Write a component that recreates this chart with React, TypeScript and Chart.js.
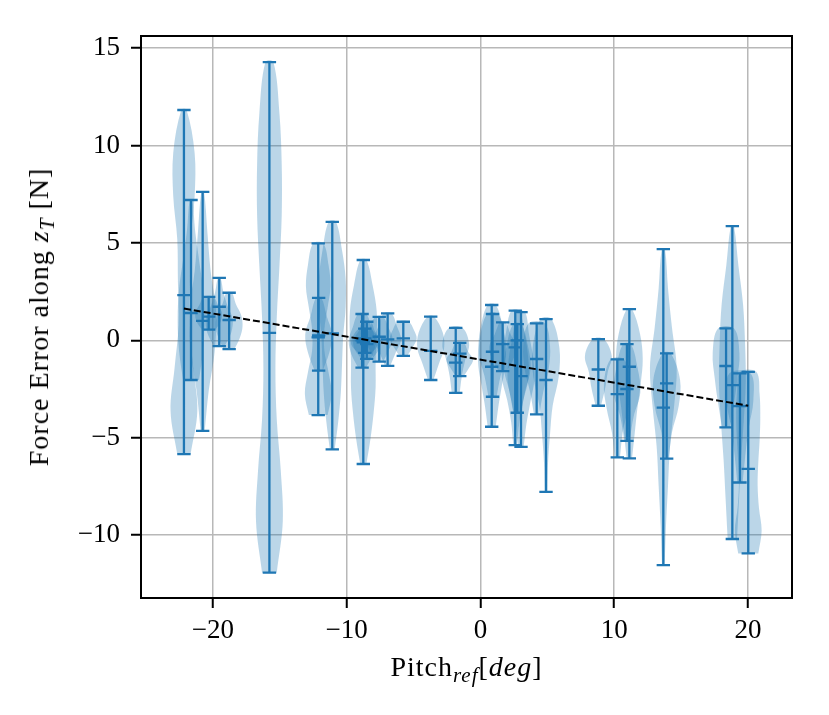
import { useEffect, useRef } from "react";
import { Chart, registerables } from "chart.js";

Chart.register(...registerables);

// one entry per violin: position on the pitch axis, extrema and centre line
const violinPos = [
  -22.17, -21.64, -20.77, -20.32, -19.53, -18.79, -15.78, -12.13, -12.1, -11.08,
  -8.76, -8.85, -8.5, -8.65, -7.57, -6.94, -5.77, -3.72, -1.85, -1.55,
  0.84, 0.9, 1.66, 2.6, 2.75, 3.03, 4.2, 4.9, 8.81, 10.23,
  11.13, 10.95, 13.67, 13.92, 18.36, 18.83, 19.4, 20.02,
];
const violinMin = [
  -5.84, -2.04, -4.65, 0.55, -0.3, -0.45, -11.93, -3.84, -1.56, -5.6,
  -6.35, -1.4, -0.95, -0.65, -1.1, -1.31, -0.8, -2.04, -2.7, -1.84,
  -4.44, -2.9, -1.58, -5.38, -3.72, -5.47, -3.8, -7.78, -3.36, -6.01,
  -6.06, -5.16, -11.54, -6.08, -4.47, -10.2, -7.3, -10.94,
];
const violinMax = [
  11.82, 7.2, 7.62, 2.23, 3.2, 2.44, 14.28, 4.97, 2.18, 6.08,
  4.12, 1.35, 0.95, 0.6, 1.2, 1.38, 0.95, 1.21, 0.64, -0.13,
  1.81, 1.35, 0.92, 1.52, 0.83, 1.45, 0.87, 1.09, 0.06, -0.98,
  1.6, -0.2, 4.68, -0.67, 0.61, 5.86, -1.7, -1.62,
];
const violinMid = [
  2.32, 1.4, 1.0, 1.21, 1.72, 1.04, 0.38, 0.15, 0.25, 0.35,
  -0.1, 0.0, -0.2, 0.1, 0.18, 0.05, 0.1, -0.54, -1.15, -0.68,
  -1.36, -0.59, -0.2, -0.36, 0.0, -1.84, -0.96, -2.04, -1.5, -2.76,
  -1.36, -2.5, -3.46, -2.21, -1.32, -2.3, -3.38, -6.6,
];
// relative half-widths, read bottom (min) to top (max) at even steps
const violinShape = [
  [0.5, 1.0, 0.7, 0.4, 0.45, 0.5, 0.8, 0.8, 0.2],
  [0.6, 0.9, 1.0, 0.9, 0.6, 0.3, 0.1],
  [0.15, 0.45, 0.9, 1.0, 0.6, 0.35, 0.1],
  [0.5, 0.9, 1.0, 0.7, 0.35],
  [0.4, 0.9, 1.0, 0.6, 0.3, 0.1],
  [0.4, 0.8, 1.0, 0.9, 0.5, 0.2],
  [0.55, 1.0, 0.85, 0.55, 0.45, 0.55, 0.75, 0.92, 0.92, 0.75, 0.3],
  [0.7, 1.0, 0.77, 0.46, 0.46, 0.7, 0.92, 0.77, 0.38],
  [0.3, 0.8, 1.0, 0.6, 0.2],
  [0.18, 0.45, 0.64, 0.73, 0.82, 1.0, 1.0, 0.73, 0.27],
  [0.23, 0.54, 0.77, 0.92, 0.92, 1.0, 1.0, 0.7, 0.23],
  [0.3, 0.8, 1.0, 0.7, 0.3],
  [0.4, 0.9, 1.0, 0.6, 0.3],
  [0.5, 1.0, 0.9, 0.4],
  [0.3, 0.7, 1.0, 0.7, 0.3],
  [0.2, 0.6, 1.0, 0.7, 0.3],
  [0.3, 0.7, 1.0, 0.8, 0.4],
  [0.2, 0.6, 1.0, 0.9, 0.25],
  [0.3, 0.45, 0.7, 1.0, 0.5],
  [0.3, 0.7, 1.0, 0.6, 0.3],
  [0.3, 0.5, 0.75, 1.0, 1.0, 0.8, 0.3],
  [0.3, 0.6, 1.0, 0.9, 0.4],
  [0.3, 0.8, 1.0, 0.6, 0.2],
  [0.15, 0.3, 0.6, 1.0, 0.95, 0.7, 0.3],
  [0.3, 0.6, 1.0, 0.8, 0.3],
  [0.2, 0.4, 0.7, 1.0, 0.9, 0.6, 0.3],
  [0.2, 0.5, 0.9, 1.0, 0.6],
  [0.1, 0.15, 0.3, 0.5, 0.95, 1.0, 0.4],
  [0.2, 0.5, 0.7, 1.0, 0.4],
  [0.2, 0.4, 0.8, 1.0, 0.5],
  [0.2, 0.4, 0.6, 0.85, 1.0, 0.8, 0.2],
  [0.2, 0.5, 1.0, 0.8, 0.3],
  [0.1, 0.2, 0.35, 0.5, 0.8, 1.0, 0.65, 0.35, 0.12],
  [0.15, 0.4, 0.9, 1.0, 0.3],
  [0.3, 0.6, 0.85, 1.0, 0.6],
  [0.35, 0.5, 0.65, 0.85, 1.0, 0.95, 0.8, 0.45, 0.12],
  [0.2, 0.4, 0.65, 1.0, 0.8],
  [0.75, 1.0, 0.8, 0.7, 0.75, 0.85, 0.9, 0.85, 0.6],
];

// dashed linear fit
const trendX = [-22.17, 20.02];
const trendY = [1.63, -3.36];

const xTicks = [-20, -10, 0, 10, 20];
const yTicks = [-10, -5, 0, 5, 10, 15];

const BLUE = "#1f77b4";
const FONT = "'Liberation Serif', 'Times New Roman', serif";
const HALF = 1; // violin half width in x units
const CAP = 0.5;

const fmt = (v: number) => (v < 0 ? "\u2212" + Math.abs(v) : String(v));

function outline(i: number) {
  const prof = violinShape[i];
  const step = (violinMax[i] - violinMin[i]) / (prof.length - 1);
  const right = prof.map((w, k) => ({ x: violinPos[i] + w * HALF, y: violinMin[i] + k * step }));
  const left = prof.map((w, k) => ({ x: violinPos[i] - w * HALF, y: violinMin[i] + k * step })).reverse();
  return [...right, ...left];
}

function barPoints() {
  const pts: { x: number; y: number | null }[] = [];
  violinPos.forEach((x, i) => {
    for (const y of [violinMax[i], violinMin[i], violinMid[i]]) {
      pts.push({ x: x - CAP, y }, { x: x + CAP, y }, { x, y: null });
    }
    pts.push({ x, y: violinMin[i] }, { x, y: violinMax[i] }, { x, y: null });
  });
  return pts;
}

const framePlugin = {
  id: "frame",
  afterDatasetsDraw(chart: any) {
    const { ctx, chartArea: a } = chart;
    ctx.save();
    ctx.strokeStyle = "black";
    ctx.lineWidth = 2;
    ctx.strokeRect(a.left, a.top, a.right - a.left, a.bottom - a.top);
    ctx.restore();
  },
};

export default function App() {
  const canvasRef = useRef<HTMLCanvasElement>(null);

  useEffect(() => {
    document.body.style.margin = "0";
    if (!canvasRef.current) return;

    const grid = { color: "#b8b8b8", lineWidth: 1.5, tickColor: "black", tickLength: 10, tickWidth: 2 };
    const tickFont = { family: FONT, size: 27 };

    const chart = new Chart(canvasRef.current, {
      type: "line",
      data: {
        datasets: [
          {
            data: trendX.map((x, i) => ({ x, y: trendY[i] })),
            borderColor: "black",
            borderWidth: 2,
            borderDash: [7, 3],
            pointRadius: 0,
            fill: false,
            order: 0,
          },
          {
            data: barPoints(),
            borderColor: BLUE,
            borderWidth: 2.3,
            pointRadius: 0,
            spanGaps: false,
            fill: false,
            order: 1,
          },
          ...violinPos.map((_, i) => ({
            data: outline(i),
            fill: "shape",
            backgroundColor: "rgba(31,119,180,0.3)",
            borderWidth: 0,
            pointRadius: 0,
            tension: 0.35,
            order: 2,
          })),
        ],
      } as any,
      options: {
        animation: false,
        responsive: false,
        devicePixelRatio: 1,
        events: [],
        layout: { padding: { left: 0, top: 36, right: 37, bottom: 0 } },
        plugins: { legend: { display: false }, tooltip: { enabled: false } },
        scales: {
          x: {
            type: "linear",
            min: -25.38,
            max: 23.29,
            afterBuildTicks: (s: any) => {
              s.ticks = xTicks.map((value) => ({ value }));
            },
            afterFit: (s: any) => {
              s.height = 117;
            },
            grid,
            border: { display: false },
            ticks: { font: tickFont, color: "black", padding: 7, maxRotation: 0, callback: (v: any) => fmt(v) },
          },
          y: {
            type: "linear",
            min: -13.23,
            max: 15.62,
            afterBuildTicks: (s: any) => {
              s.ticks = yTicks.map((value) => ({ value }));
            },
            afterFit: (s: any) => {
              s.width = 141;
            },
            grid,
            border: { display: false },
            ticks: { font: tickFont, color: "black", padding: 11, callback: (v: any) => fmt(v) },
          },
        },
      } as any,
      plugins: [framePlugin],
    });

    return () => chart.destroy();
  }, []);

  const sub = { fontStyle: "italic", fontSize: "0.75em", position: "relative" as const, top: "0.3em" };
  const title = { fontSize: 28, lineHeight: "28px", letterSpacing: "1px", whiteSpace: "nowrap" as const };

  return (
    <div style={{ position: "relative", width: 829, height: 715, background: "white", fontFamily: FONT }}>
      <canvas ref={canvasRef} width={829} height={715} style={{ display: "block" }} />
      <div style={{ ...title, position: "absolute", left: 141, width: 651, top: 653, textAlign: "center" }}>
        Pitch<span style={sub}>ref</span>[<i>deg</i>]
      </div>
      <div
        style={{
          ...title,
          position: "absolute",
          left: 40,
          top: 317,
          transform: "translate(-50%, -50%) rotate(-90deg)",
        }}
      >
        Force Error along <i>z</i>
        <span style={sub}>T</span> [N]
      </div>
    </div>
  );
}
